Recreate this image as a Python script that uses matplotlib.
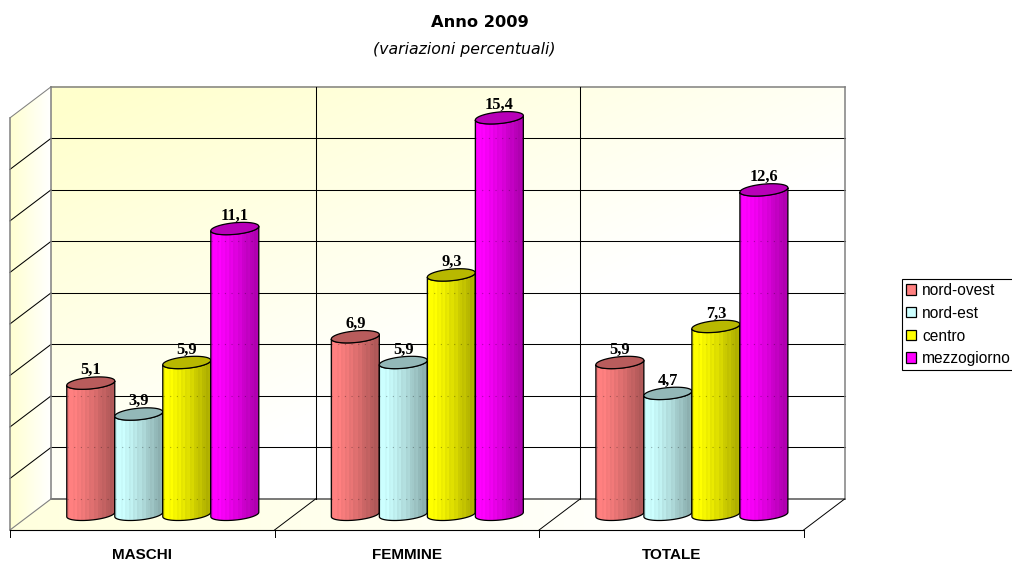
import numpy as np
import matplotlib
matplotlib.use("Agg")
import matplotlib.pyplot as plt
from matplotlib.patches import Polygon, Rectangle
from matplotlib.colors import to_rgb

categories = ["MASCHI", "FEMMINE", "TOTALE"]
regions = ["nord-ovest", "nord-est", "centro", "mezzogiorno"]
nord_ovest = [5.1, 6.9, 5.9]
nord_est = [3.9, 5.9, 4.7]
centro = [5.9, 9.3, 7.3]
mezzogiorno = [11.1, 15.4, 12.6]
series = [nord_ovest, nord_est, centro, mezzogiorno]
colors = ["#FF8080", "#CCFFFF", "#FFFF00", "#FF00FF"]
y_ticks = list(range(0, 17, 2))

# shading across a cylinder, left to right
shade = np.array([0.93, 1.0, 1.0, 0.98, 1.0, 0.96, 0.97, 0.93, 0.95, 0.9, 0.92, 0.87,
                  0.88, 0.84, 0.85, 0.8, 0.79, 0.76, 0.77, 0.73, 0.72, 0.69, 0.7, 0.66])

W, H = 1012, 561
fig = plt.figure(figsize=((W + 0.2) / 100, (H + 0.2) / 100), dpi=100, facecolor="white")
# axes = middle plane of the 3d box, the one the cylinders stand in
ax = fig.add_axes([30.5 / W, (H - 514.5) / H, 793.5 / W, 412 / H])
ax.axis("off")

px_x = 3 / 793.5   # one pixel in data units
px_y = 16 / 412
dx, dy = 20.5 * px_x, 15.5 * px_y   # half depth of the box
bar_w = 48 * px_x


def wall_image(extent, rgb, clip=None, z=1):
    im = ax.imshow(rgb, extent=extent, origin="lower", aspect="auto", zorder=z, interpolation="bilinear")
    im.set_clip_box(fig.bbox)
    if clip is not None:
        poly = Polygon(clip, transform=ax.transData, closed=True, fc="none", ec="none")
        ax.add_patch(poly)
        im.set_clip_path(poly)
    return im


def pale(strength):
    s = np.clip(strength, 0, 1)
    return np.dstack([np.ones_like(s), np.ones_like(s), 1 - 0.2 * s])


# back wall
xx, yy = np.meshgrid(np.linspace(0, 1, 80), np.linspace(0, 1, 60))
wall_image((dx, 3 + dx, dy, 16 + dy), pale(1.05 - 0.85 * xx - 0.95 * (1 - yy)))
# left wall
gx = np.linspace(1, 0, 30)[None, :].repeat(2, axis=0)
side = [(-dx, -dy), (dx, dy), (dx, 16 + dy), (-dx, 16 - dy)]
wall_image((-dx, dx, -dy, 16 + dy), pale(gx * 0.9), clip=side)
# floor
fx, fy = np.meshgrid(np.linspace(0, 1, 80), np.linspace(0, 1, 10))
floor = [(-dx, -dy), (3 - dx, -dy), (3 + dx, dy), (dx, dy)]
wall_image((-dx, 3 + dx, -dy, dy), pale(0.65 - 0.8 * fx), clip=floor)

# grid on back and left wall
for v in y_ticks:
    edge = "#808080" if v == 16 else ("#555555" if v == 0 else "black")
    lw = 1.1 if v in (0, 16) else 0.75
    ax.plot([dx, 3 + dx], [v + dy, v + dy], color=edge, lw=lw, zorder=2, clip_on=False)
    if v > 0:
        ax.plot([-dx, dx], [v - dy, v + dy], color="#808080" if v == 16 else "black", lw=0.75, zorder=2, clip_on=False)
for i in (1, 2):
    ax.plot([i + dx, i + dx], [dy, 16 + dy], color="black", lw=0.75, zorder=2, clip_on=False)
# box edges
ax.plot([dx, dx], [dy, 16 + dy], color="#808080", lw=1.1, zorder=2, clip_on=False)
ax.plot([3 + dx, 3 + dx], [dy, 16 + dy], color="#808080", lw=1.1, zorder=2, clip_on=False)
ax.plot([-dx, -dx], [-dy, 16 - dy], color="#808080", lw=1.1, zorder=2, clip_on=False)
ax.plot([-dx, dx], [-dy, dy], color="#808080", lw=0.8, zorder=2, clip_on=False)
# floor lines and x axis
for i in (1, 2, 3):
    ax.plot([i - dx, i + dx], [-dy, dy], color="black", lw=0.7, zorder=2, clip_on=False)
ax.plot([-dx, 3 - dx], [-dy, -dy], color="black", lw=0.8, zorder=6, clip_on=False)
for i in range(4):
    ax.plot([i - dx, i - dx], [-dy, -dy - 7 * px_y], color="black", lw=0.7, zorder=6, clip_on=False)
    if i < 3:
        ax.text(i + 0.5 - dx, -dy - 25 * px_y, categories[i], ha="center", va="center", fontsize=11,
                fontweight="bold", family="Liberation Sans", color="black", clip_on=False)

# cylinders
t = np.linspace(0, np.pi, 40)
for g in range(3):
    for s, vals in enumerate(series):
        v = vals[g]
        cx = g + 0.5 + (s - 1.5) * bar_w
        base = np.array(to_rgb(colors[s]))
        z = 10 + g * 10 + s
        # lower arc of bottom ellipse, upper body edge follows front of top ellipse
        ex = -(bar_w / 2) * np.cos(t)
        ey = (2.2 * (-np.cos(t)) - 5.6 * np.sin(t)) * px_y
        body = np.vstack([np.column_stack([cx + ex, ey]),
                          np.column_stack([(cx + ex)[::-1], v + ey[::-1]])])
        strip = np.clip(shade[:, None] * base[None, :], 0, 1)[None, :, :]
        im = ax.imshow(strip, extent=(cx - bar_w / 2, cx + bar_w / 2, -1, v + 1), origin="lower",
                       aspect="auto", zorder=z, interpolation="nearest")
        im.set_clip_box(fig.bbox)
        patch = Polygon(body, closed=True, fc="none", ec="black", lw=0.9, zorder=z + 0.2, clip_on=False)
        ax.add_patch(patch)
        im.set_clip_path(patch)
        # faint grid showing through
        for tick in y_ticks:
            if dy + tick < v:
                ln, = ax.plot([cx - bar_w / 2, cx + bar_w / 2], [tick + dy, tick + dy], color="black", lw=0.8,
                              ls=(0, (1, 5)), alpha=0.3, zorder=z + 0.1)
                ln.set_clip_path(patch)
        # top ellipse
        a = np.linspace(0, 2 * np.pi, 80)
        top = np.column_stack([cx + (bar_w / 2) * np.cos(a),
                               v + (2.2 * np.cos(a) + 5.8 * np.sin(a)) * px_y])
        ax.add_patch(Polygon(top, closed=True, fc=base * 0.72, ec="black", lw=0.9, zorder=z + 0.3, clip_on=False))
        label = f"{v:.1f}".replace(".", ",")
        ax.text(cx, v + 13 * px_y, label, ha="center", va="center", fontsize=11.8, fontweight="bold",
                family="Liberation Serif", color="black", zorder=50, clip_on=False)

ax.set_xlim(0, 3)
ax.set_ylim(0, 16)

fig.text(480 / W, 1 - 22.5 / H, "Anno 2009", ha="center", va="center", fontsize=11.7, fontweight="bold",
         family="DejaVu Sans", color="black")
fig.text(464 / W, 1 - 49 / H, "(variazioni percentuali)", ha="center", va="center", fontsize=11.3,
         style="italic", family="DejaVu Sans", color="black")

handles = [Rectangle((0, 0), 1, 1, fc=c, ec="black", lw=0.9) for c in colors]
leg = fig.legend(handles, regions, loc="upper left", bbox_to_anchor=(902 / W, 1 - 279 / H),
                 borderaxespad=0, frameon=True, fancybox=False, edgecolor="black", framealpha=1,
                 prop={"family": "Liberation Sans", "size": 11.2}, handlelength=0.65, handleheight=0.65,
                 handletextpad=0.38, labelspacing=0.5, borderpad=0.25)
leg.get_frame().set_linewidth(0.8)

fig.savefig("out.png", dpi=100)
